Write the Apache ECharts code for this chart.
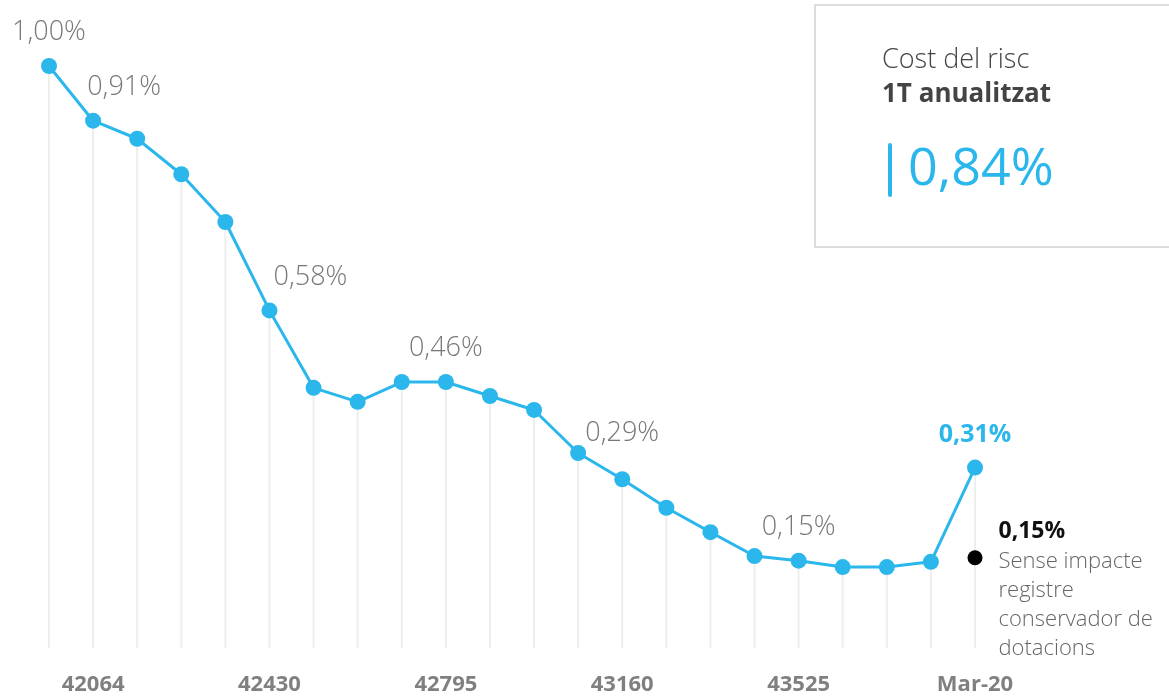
<!DOCTYPE html>
<html>
<head>
<meta charset="utf-8">
<script src="https://cdn.jsdelivr.net/npm/echarts@6/dist/echarts.min.js"></script>
<style>
	html, body { margin: 0; padding: 0; background: #fff; }
	#main { width: 1169px; height: 696px; }
</style>
</head>
<body>
<div id="main"></div>
<script>
// quarterly points, only every 4th one gets an axis label
const tickLabels = ['', '42064', '', '', '', '42430', '', '', '', '42795', '', '',
	'', '43160', '', '', '', '43525', '', '', '', 'Mar-20'];
const costRisc = [1.00, 0.906, 0.875, 0.814, 0.732, 0.58, 0.447, 0.423, 0.457, 0.457, 0.433,
	0.409, 0.335, 0.29, 0.241, 0.199, 0.158, 0.15, 0.139, 0.139, 0.148, 0.31];
const senseImpacte = 0.155; // last quarter without the provisioning effect
const kpiTitle = 'Cost del risc';
const kpiSub = '1T anualitzat';
const kpiValue = '0,84%';

const BLUE = '#2bb7ec';
const FONT = '"Open Sans", "Noto Sans", sans-serif';

const fmt = v => v.toFixed(2).replace('.', ',') + '%';

// labels on every 4th point, some shifted to clear the line
const labelOffsets = { 0: [0, 0], 1: [31, 0], 5: [41, 0], 9: [0, 0], 13: [0, -12], 17: [0, 0], 21: [0, 0] };

const lineData = costRisc.map((v, i) => {
	const d = { value: v };
	if (labelOffsets[i]) {
		d.label = {
			show: true,
			offset: labelOffsets[i],
			formatter: p => fmt(p.value)
		};
		if (i === costRisc.length - 1) {
			d.label.color = BLUE;
			d.label.fontWeight = 'bold';
			d.label.fontSize = 25;
		}
	}
	return d;
});

const blackData = costRisc.map((v, i) => i === costRisc.length - 1 ? senseImpacte : '-');

const myChart = echarts.init(document.getElementById('main'));

const option = {
	animation: false,
	textStyle: { fontFamily: FONT },
	grid: { left: 49, right: 194, top: 66, bottom: 48 },
	xAxis: {
		type: 'category',
		data: tickLabels,
		boundaryGap: false,
		axisLine: { show: false },
		axisTick: { show: false },
		axisLabel: {
			interval: 0,
			margin: 26,
			fontSize: 22,
			fontWeight: 'bold',
			color: '#808080',
			fontFamily: FONT
		}
	},
	yAxis: {
		type: 'value',
		min: 0,
		max: 1,
		show: false
	},
	series: [
		{
			name: 'drop',
			type: 'bar',
			data: costRisc,
			barWidth: 2,
			itemStyle: { color: '#eeeeee' },
			silent: true,
			z: 1
		},
		{
			name: 'Cost del risc',
			type: 'line',
			data: lineData,
			symbol: 'circle',
			symbolSize: 16,
			lineStyle: { color: BLUE, width: 3 },
			itemStyle: { color: BLUE },
			label: {
				position: 'top',
				distance: 12,
				fontSize: 27,
				fontWeight: 300,
				color: '#777777',
				fontFamily: FONT
			},
			z: 3
		},
		{
			name: 'Sense impacte',
			type: 'line',
			data: blackData,
			symbol: 'circle',
			symbolSize: 15,
			itemStyle: { color: '#000' },
			lineStyle: { opacity: 0 },
			label: {
				show: true,
				position: [31, -35],
				align: 'left',
				verticalAlign: 'top',
				formatter: p => '{b|' + fmt(p.value) + '}\n{t|Sense impacte}\n{t|registre}\n{t|conservador de}\n{t|dotacions}',
				rich: {
					b: { fontSize: 23, fontWeight: 'bold', color: '#111', lineHeight: 32, fontFamily: FONT },
					t: { fontSize: 22, fontWeight: 300, color: '#666', lineHeight: 29, fontFamily: FONT }
				}
			},
			z: 4
		}
	],
	graphic: [
		{
			type: 'rect',
			shape: { x: 815, y: 5, width: 360, height: 242 },
			style: { fill: '#fff', stroke: '#dcdcdc', lineWidth: 2 }
		},
		{
			type: 'text',
			left: 882, top: 47,
			style: { text: kpiTitle, fontSize: 27, fontWeight: 300, fill: '#444', fontFamily: FONT }
		},
		{
			type: 'text',
			left: 882, top: 82,
			style: { text: kpiSub, fontSize: 26, fontWeight: 'bold', fill: '#444', fontFamily: FONT }
		},
		{
			type: 'rect',
			shape: { x: 888, y: 143, width: 4, height: 54, r: 2 },
			style: { fill: BLUE }
		},
		{
			type: 'text',
			left: 908, top: 144,
			style: { text: kpiValue, fontSize: 52, fill: BLUE, fontFamily: FONT }
		}
	]
};

myChart.setOption(option);
</script>
</body>
</html>
